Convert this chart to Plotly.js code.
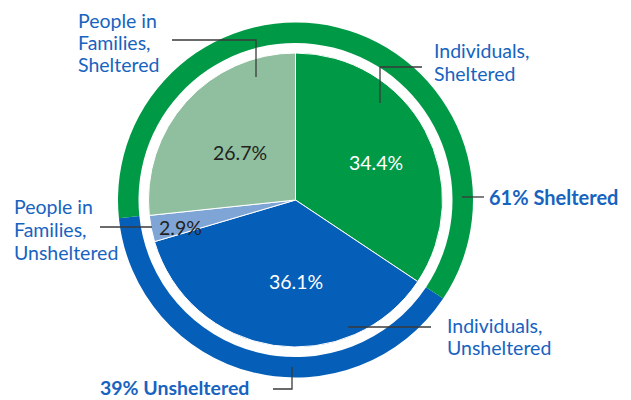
<!DOCTYPE html>
<html><head><meta charset="utf-8">
<script src="https://cdn.plot.ly/plotly-3.0.1.min.js"></script>
<style>html,body{margin:0;padding:0;background:#fff}#c{width:631px;height:400px}</style>
</head><body><div id="c"></div>
<script>
// Inner pie (clockwise from 12 o'clock)
const innerLabels = ["Individuals, Sheltered", "Individuals, Unsheltered", "People in Families, Unsheltered", "People in Families, Sheltered"];
const innerValues = [34.4, 36.1, 2.9, 26.7];
const innerColors = ["#009a47", "#055eb8", "#7fa5d6", "#8fbf9f"];
// Outer ring
const outerLabels = ["Unsheltered", "Sheltered"];
const outerValues = [39, 61];
const outerColors = ["#055eb8", "#009a47"];
const outerText = ["39% Unsheltered", "61% Sheltered"];
const labelLines = [["Individuals,", "Sheltered"], ["Individuals,", "Unsheltered"], ["People in", "Families,", "Unsheltered"], ["People in", "Families,", "Sheltered"]];

const W = 631, H = 400;
const px = x => x / W, py = y => 1 - y / H;
const total = innerValues.reduce((a, b) => a + b, 0);
const outerRotation = innerValues[0] / total * 360;

const traces = [
  {type: "pie", labels: outerLabels, values: outerValues, hole: 0.8845, sort: false,
   direction: "clockwise", rotation: outerRotation, textinfo: "none", hoverinfo: "label+value",
   marker: {colors: outerColors, line: {width: 0}},
   domain: {x: [px(118), px(473)], y: [py(377.5), py(22.5)]}, showlegend: false},
  {type: "pie", labels: innerLabels, values: innerValues, sort: false,
   direction: "clockwise", rotation: 0, textinfo: "none", hoverinfo: "label+value",
   marker: {colors: innerColors, line: {color: "#ffffff", width: 1}},
   domain: {x: [px(148.5), px(442.5)], y: [py(347), py(53)]}, showlegend: false}
];

const blue = "#1763c0";
const FONT = "Lato, 'Open Sans', sans-serif";
const pctPos = [[376, 162, "#ffffff"], [296, 281, "#ffffff"], [180, 228, "#231f20"], [240, 152, "#231f20"]];
const annotations = [];
innerValues.forEach((v, i) => {
  annotations.push({xref: "paper", yref: "paper", x: px(pctPos[i][0]), y: py(pctPos[i][1]),
    text: v.toFixed(1) + "%", showarrow: false, xanchor: "center", yanchor: "middle",
    font: {family: FONT, size: 19.5, color: pctPos[i][2]}});
});
// [left x, first line centre y]
const labPos = [[432, 51], [445, 325], [12, 207], [76, 20]];
const LS = 22.5;
labelLines.forEach((lines, i) => {
  lines.forEach((t, k) => {
    annotations.push({xref: "paper", yref: "paper", x: px(labPos[i][0]), y: py(labPos[i][1] + k * LS),
      text: t, showarrow: false, xanchor: "left", yanchor: "middle", align: "left",
      font: {family: FONT, size: 19.5, color: blue}});
  });
});
annotations.push({xref: "paper", yref: "paper", x: px(99), y: 0, text: "<b>" + outerText[0] + "</b>",
  showarrow: false, xanchor: "left", yanchor: "bottom", borderpad: 0,
  font: {family: FONT, size: 19.5, color: blue}});
annotations.push({xref: "paper", yref: "paper", x: px(487), y: py(197), text: "<b>" + outerText[1] + "</b>",
  showarrow: false, xanchor: "left", yanchor: "middle", font: {family: FONT, size: 20, color: blue}});

const lc = {color: "#3a3a3a", width: 1.3};
const path = pts => ({type: "path", xref: "paper", yref: "paper",
  path: pts.map((p, i) => (i ? "L" : "M") + px(p[0]) + "," + py(p[1])).join(" "), line: lc});
const shapes = [
  path([[172, 40], [256, 40], [256, 77]]),
  path([[422, 67], [380, 67], [380, 103]]),
  path([[462, 197], [484, 197]]),
  path([[348, 327], [431, 327]]),
  path([[292, 367], [292, 389], [273, 389]]),
  path([[100, 227], [152, 227]])
];

Plotly.newPlot("c", traces, {
  width: W, height: H, margin: {l: 0, r: 0, t: 0, b: 0},
  paper_bgcolor: "#ffffff", showlegend: false,
  xaxis: {visible: false, range: [0, 1]}, yaxis: {visible: false, range: [0, 1]},
  annotations: annotations, shapes: shapes
}, {displayModeBar: false, staticPlot: true});
</script></body></html>
